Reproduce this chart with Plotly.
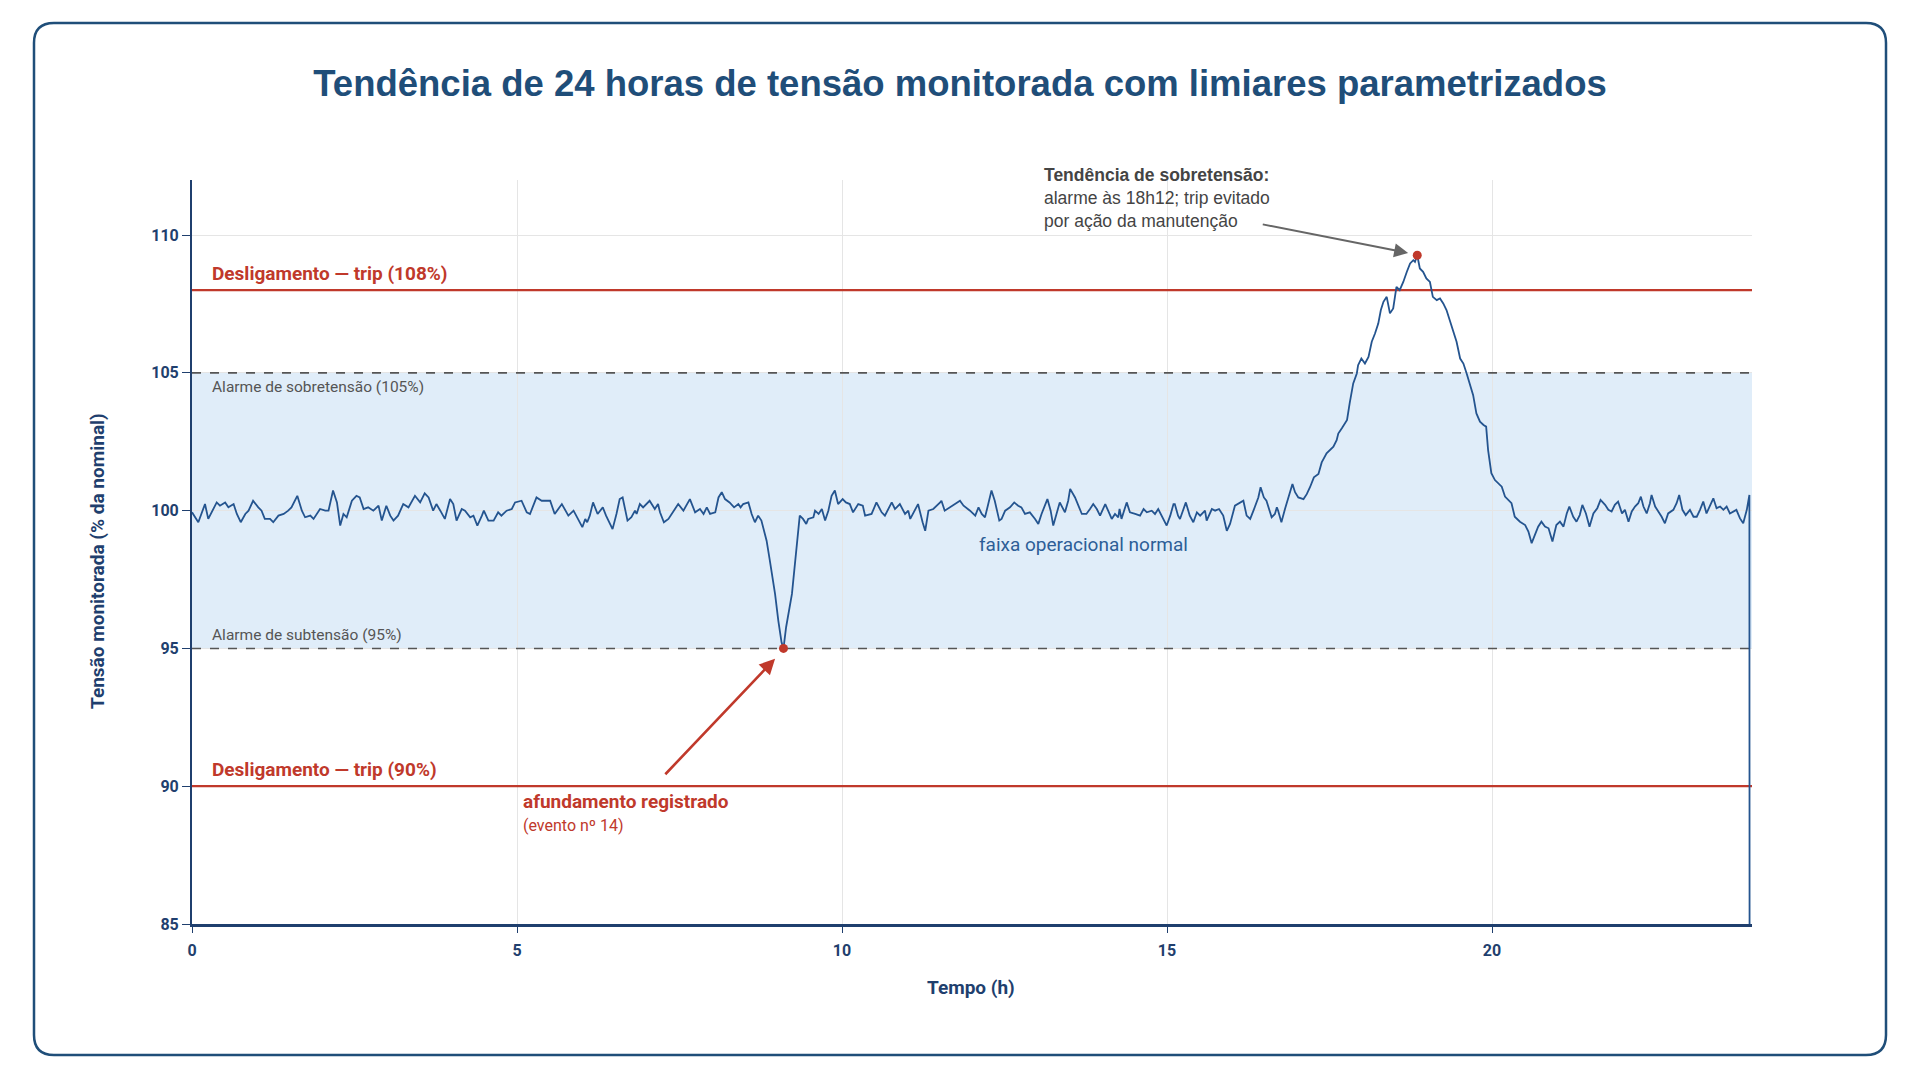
import plotly.graph_objects as go

# ---------------- data ----------------
hours = [
    0.00, 0.097, 0.20, 0.25, 0.38, 0.43, 0.51, 0.56, 0.64, 0.69, 0.75, 0.82, 0.87, 0.94, 1.02, 1.07,
    1.12, 1.20, 1.25, 1.33, 1.41, 1.48, 1.53, 1.62, 1.69, 1.74, 1.82, 1.87, 1.97, 2.05, 2.10, 2.17,
    2.23, 2.28, 2.33, 2.38, 2.46, 2.53, 2.58, 2.64, 2.71, 2.79, 2.87, 2.92, 2.99, 3.05, 3.10, 3.17,
    3.25, 3.33, 3.43, 3.51, 3.58, 3.64, 3.71, 3.76, 3.82, 3.89, 3.97, 4.02, 4.07, 4.15, 4.20, 4.28,
    4.33, 4.39, 4.46, 4.49, 4.56, 4.64, 4.71, 4.76, 4.84, 4.92, 4.97, 5.07, 5.15, 5.20, 5.30, 5.38,
    5.51, 5.58, 5.69, 5.79, 5.87,
    5.97, 6.005, 6.05, 6.08, 6.12, 6.17, 6.24, 6.32, 6.37, 6.47, 6.53, 6.58, 6.625, 6.70, 6.76, 6.815,
    6.84, 6.89, 6.94, 7.04, 7.12, 7.17, 7.20, 7.26, 7.33, 7.41, 7.48, 7.56, 7.66, 7.74, 7.815, 7.87,
    7.92, 7.97, 8.05, 8.10, 8.15, 8.20, 8.27, 8.34, 8.405, 8.44, 8.48, 8.56, 8.61, 8.66, 8.71, 8.76,
    8.84, 8.89, 8.97, 9.02, 9.07, 9.10, 9.14, 9.23, 9.29, 9.35, 9.40, 9.45, 9.48, 9.56, 9.585, 9.64,
    9.69, 9.74, 9.79, 9.84, 9.89, 9.94, 10.01, 10.06, 10.12, 10.17, 10.25, 10.32, 10.355, 10.455, 10.53, 10.61,
    10.66, 10.765, 10.815, 10.89, 10.97, 11.02, 11.05, 11.17, 11.24, 11.28, 11.33, 11.405, 11.51, 11.53, 11.58, 11.66,
    11.815, 11.87, 11.97,
    12.05, 12.10, 12.15, 12.20, 12.25, 12.30, 12.35, 12.42, 12.455, 12.51, 12.585, 12.65, 12.71, 12.76, 12.815, 12.89,
    12.97, 13.02, 13.07, 13.16, 13.21, 13.25, 13.30, 13.35, 13.43, 13.48, 13.51, 13.585, 13.69, 13.76, 13.815, 13.865,
    13.92, 13.97, 14.05, 14.10, 14.15, 14.20, 14.25, 14.27, 14.30, 14.38, 14.43, 14.51, 14.585, 14.64, 14.69, 14.765,
    14.815, 14.865, 14.95, 14.995, 15.05, 15.10, 15.12, 15.17, 15.20, 15.29, 15.35, 15.405, 15.46, 15.51, 15.585, 15.61,
    15.69, 15.74, 15.80, 15.865, 15.92, 15.97, 16.045, 16.12, 16.175, 16.225, 16.28, 16.33, 16.405, 16.44, 16.49, 16.53,
    16.61, 16.66, 16.69, 16.71, 16.76, 16.815, 16.89, 16.93, 16.97, 17.02, 17.10, 17.15, 17.20, 17.26, 17.33, 17.38,
    17.455, 17.51, 17.56, 17.61, 17.635, 17.69, 17.74, 17.77, 17.81, 17.865, 17.92, 17.94, 17.99, 18.045, 18.10, 18.15,
    18.20, 18.25, 18.29, 18.33, 18.38, 18.43, 18.48, 18.53, 18.58, 18.635, 18.69, 18.74, 18.79, 18.815, 18.85, 18.89,
    18.94, 18.99, 19.045, 19.09, 19.15, 19.20, 19.25, 19.30, 19.35, 19.40, 19.455, 19.51, 19.56, 19.61, 19.66, 19.71,
    19.76, 19.815, 19.87, 19.91, 19.94, 19.99, 20.045, 20.10, 20.15, 20.20, 20.25, 20.30, 20.35, 20.43, 20.51, 20.56,
    20.61, 20.66, 20.71, 20.76, 20.815, 20.87, 20.93, 20.99, 21.045, 21.10, 21.15, 21.19, 21.25, 21.30, 21.35, 21.39,
    21.445, 21.50, 21.56, 21.62, 21.67, 21.74, 21.79, 21.84, 21.89, 21.94, 22.00, 22.045, 22.10, 22.15, 22.20, 22.25,
    22.29, 22.33, 22.38, 22.43, 22.455, 22.51, 22.56, 22.61, 22.66, 22.71, 22.79, 22.84, 22.88, 22.93, 22.98, 23.045,
    23.10, 23.15, 23.20, 23.25, 23.30, 23.35, 23.405, 23.455, 23.51, 23.56, 23.61, 23.66, 23.71, 23.76, 23.815, 23.865,
    23.92, 23.96, 23.965,
]
voltage = [
    99.94, 99.58, 100.24, 99.70, 100.30, 100.18, 100.30, 100.12, 100.24, 99.88, 99.58, 99.88, 100.0, 100.36, 100.12, 100.0,
    99.70, 99.70, 99.58, 99.82, 99.88, 100.0, 100.12, 100.54, 100.0, 99.76, 99.82, 99.70, 100.06, 100.0, 100.0, 100.73,
    100.30, 99.46, 99.88, 99.76, 100.36, 100.54, 100.48, 100.06, 100.12, 100.0, 100.18, 99.64, 100.18, 99.82, 99.64, 99.82,
    100.24, 100.12, 100.54, 100.30, 100.63, 100.48, 100.0, 100.24, 100.0, 99.70, 100.42, 100.24, 99.64, 100.06, 100.0, 99.76,
    99.82, 99.46, 99.82, 100.0, 99.64, 99.64, 99.94, 99.82, 100.0, 100.06, 100.30, 100.36, 99.94, 99.88, 100.48, 100.36,
    100.36, 99.88, 100.24, 99.82, 100.0,
    99.58, 99.40, 99.70, 99.58, 99.82, 100.30, 99.88, 100.12, 99.82, 99.33, 99.88, 100.42, 100.48, 99.64, 99.76, 100.0,
    99.88, 100.24, 100.12, 100.36, 100.06, 100.24, 99.94, 99.58, 99.70, 100.0, 100.24, 100.0, 100.42, 99.94, 100.06, 99.88,
    100.12, 99.88, 99.94, 100.48, 100.67, 100.42, 100.30, 100.12, 100.24, 100.12, 100.24, 100.30, 99.88, 99.58, 99.82, 99.64,
    98.91, 98.19, 96.98, 96.01, 95.22, 95.0, 95.77, 96.98, 98.43, 99.82, 99.70, 99.52, 99.70, 99.76, 100.0, 99.88,
    100.06, 99.64, 100.0, 100.54, 100.73, 100.24, 100.42, 100.30, 100.24, 99.94, 100.24, 100.18, 99.82, 99.88, 100.30, 99.94,
    99.82, 100.30, 100.06, 100.24, 99.88, 100.0, 99.70, 100.24, 99.58, 99.27, 100.0, 100.06, 100.30, 100.36, 100.0, 100.12,
    100.36, 100.18, 100.0,
    99.82, 100.12, 99.88, 99.76, 100.24, 100.73, 100.36, 99.64, 99.70, 100.0, 100.12, 100.30, 100.18, 100.12, 99.88, 99.94,
    99.70, 99.52, 99.88, 100.42, 100.0, 99.46, 99.88, 100.30, 99.94, 100.36, 100.79, 100.48, 99.88, 99.88, 100.06, 100.24,
    100.06, 99.82, 100.24, 99.94, 99.70, 99.88, 99.76, 100.06, 99.70, 100.30, 99.94, 99.88, 99.82, 100.06, 99.94, 100.0,
    99.88, 100.06, 99.70, 99.46, 99.82, 100.24, 100.24, 99.82, 99.70, 100.30, 99.82, 99.58, 99.94, 99.82, 100.0, 99.64,
    100.06, 100.0, 100.06, 99.82, 99.27, 99.52, 100.18, 100.30, 100.36, 99.82, 99.70, 100.0, 100.48, 100.85, 100.48, 100.36,
    99.76, 99.88, 100.12, 100.0, 99.58, 100.06, 100.60, 100.97, 100.67, 100.48, 100.42, 100.60, 100.85, 101.21, 101.33, 101.75,
    102.08, 102.20, 102.32, 102.56, 102.80, 102.99, 103.17, 103.29, 103.89, 104.62, 104.98, 105.28, 105.52, 105.34, 105.58, 106.13,
    106.43, 106.79, 107.28, 107.58, 107.76, 107.16, 107.34, 108.12, 108.00, 108.30, 108.67, 108.97, 109.09, 109.03, 109.27, 108.79,
    108.67, 108.43, 108.30, 107.76, 107.64, 107.70, 107.52, 107.28, 106.91, 106.55, 106.13, 105.52, 105.34, 104.98, 104.62, 104.19,
    103.53, 103.23, 103.11, 103.05, 102.20, 101.36, 101.11, 100.99, 100.87, 100.51, 100.39, 100.27, 99.78, 99.60, 99.48, 99.24,
    98.82, 99.12, 99.42, 99.60, 99.42, 99.36, 98.88, 99.48, 99.60, 99.42, 99.90, 100.15, 99.78, 99.60, 99.84, 100.21,
    99.90, 99.42, 99.90, 100.09, 100.39, 100.21, 100.03, 99.97, 100.21, 100.33, 99.90, 100.03, 99.60, 99.97, 100.15, 100.27,
    100.51, 100.15, 99.90, 100.27, 100.57, 100.15, 99.97, 99.78, 99.54, 99.90, 100.03, 100.27, 100.57, 100.03, 99.84, 100.03,
    99.78, 99.78, 100.03, 100.33, 99.90, 100.15, 100.45, 100.09, 100.15, 100.03, 100.15, 99.90, 99.97, 100.03, 99.72, 99.54,
    100.03, 100.57, 70.0,
]

sag_event = {"h": [9.10], "v": [95.0]}
swell_event = {"h": [18.85], "v": [109.27]}

trip_high, trip_low = 108, 90
alarm_high, alarm_low = 105, 95

x_ticks = [0, 5, 10, 15, 20]
y_ticks = [85, 90, 95, 100, 105, 110]

title_text = "Tendência de 24 horas de tensão monitorada com limiares parametrizados"
x_title = "Tempo (h)"
y_title = "Tensão monitorada (% da nominal)"

# ---------------- styling ----------------
NAVY = "#1f3f6e"
TITLE_NAVY = "#1f4e79"
RED = "#c0392b"
LINE_BLUE = "#24548f"
GRAY = "#555555"

W, H = 1920, 1080
ML, MR, MT, MB = 192, 168, 180, 156
PW, PH = W - ML - MR, H - MT - MB


def px(x):
    return (x - ML) / PW


def py(y):
    return (H - MB - y) / PH


fig = go.Figure()

fig.add_trace(go.Scatter(
    x=hours, y=voltage, mode="lines",
    line=dict(color=LINE_BLUE, width=1.8),
    hoverinfo="skip", showlegend=False,
))
fig.add_trace(go.Scatter(
    x=sag_event["h"] + swell_event["h"], y=sag_event["v"] + swell_event["v"], mode="markers",
    marker=dict(color=RED, size=9), showlegend=False, hoverinfo="skip",
))

shapes = []
shapes.append(dict(type="rect", xref="x", yref="y", x0=0, x1=24, y0=alarm_low, y1=alarm_high,
                   fillcolor="#e0edf9", line=dict(width=0), layer="below"))
for yv in (trip_high, trip_low):
    shapes.append(dict(type="line", xref="x", yref="y", x0=0, x1=24, y0=yv, y1=yv,
                       line=dict(color=RED, width=2.2), layer="between"))
for yv in (alarm_high, alarm_low):
    shapes.append(dict(type="line", xref="x", yref="y", x0=0, x1=24, y0=yv, y1=yv,
                       line=dict(color=GRAY, width=1.6, dash="dash"), layer="between"))

# rounded outer frame
x0, x1, y0, y1, r = 34, 1886, 23, 1055, 20
path = (
    f"M {px(x0 + r)},{py(y0)} L {px(x1 - r)},{py(y0)} Q {px(x1)},{py(y0)} {px(x1)},{py(y0 + r)} "
    f"L {px(x1)},{py(y1 - r)} Q {px(x1)},{py(y1)} {px(x1 - r)},{py(y1)} "
    f"L {px(x0 + r)},{py(y1)} Q {px(x0)},{py(y1)} {px(x0)},{py(y1 - r)} "
    f"L {px(x0)},{py(y0 + r)} Q {px(x0)},{py(y0)} {px(x0 + r)},{py(y0)} Z"
)
shapes.append(dict(type="path", xref="paper", yref="paper", path=path,
                   line=dict(color="#1f4e79", width=2.5), layer="above"))

annotations = [
    dict(x=0.28, y=108.62, xref="x", yref="y", text="<b>Desligamento — trip (108%)</b>",
         showarrow=False, xanchor="left", yanchor="middle",
         font=dict(family="Roboto", size=19, color=RED)),
    dict(x=0.28, y=90.62, xref="x", yref="y", text="<b>Desligamento — trip (90%)</b>",
         showarrow=False, xanchor="left", yanchor="middle",
         font=dict(family="Roboto", size=19, color=RED)),
    dict(x=0.28, y=104.5, xref="x", yref="y", text="Alarme de sobretensão (105%)",
         showarrow=False, xanchor="left", yanchor="middle",
         font=dict(family="Roboto", size=15.5, color=GRAY)),
    dict(x=0.28, y=95.47, xref="x", yref="y", text="Alarme de subtensão (95%)",
         showarrow=False, xanchor="left", yanchor="middle",
         font=dict(family="Roboto", size=15.5, color=GRAY)),
    dict(x=13.72, y=98.76, xref="x", yref="y", text="faixa operacional normal",
         showarrow=False, xanchor="center", yanchor="middle",
         font=dict(family="Roboto", size=19, color="#2d5e97")),
    dict(x=5.06, y=89.45, xref="x", yref="y", text="<b>afundamento registrado</b>",
         showarrow=False, xanchor="left", yanchor="middle",
         font=dict(family="Roboto", size=19, color=RED)),
    dict(x=5.06, y=88.57, xref="x", yref="y", text="(evento nº 14)",
         showarrow=False, xanchor="left", yanchor="middle",
         font=dict(family="Roboto", size=16, color=RED)),
    dict(x=13.08, y=py(163), xref="x", yref="paper",
         text="<b>Tendência de sobretensão:</b><br>alarme às 18h12; trip evitado<br>por ação da manutenção",
         showarrow=False, xanchor="left", yanchor="top", align="left",
         font=dict(family="Liberation Sans, Arial", size=17.5, color="#444444")),
    # axis titles
    dict(x=px(97), y=py(561), xref="paper", yref="paper", text=f"<b>{y_title}</b>",
         showarrow=False, textangle=-90, xanchor="center", yanchor="middle",
         font=dict(family="Roboto", size=19, color=NAVY)),
    dict(x=px(971), y=py(987), xref="paper", yref="paper", text=f"<b>{x_title}</b>",
         showarrow=False, xanchor="center", yanchor="middle",
         font=dict(family="Roboto", size=19, color=NAVY)),
    # arrows
    dict(x=8.97, y=94.63, ax=7.26, ay=90.38, xref="x", yref="y", axref="x", ayref="y",
         text="", showarrow=True, arrowhead=2, arrowsize=1.2, arrowwidth=2.6, arrowcolor=RED),
    dict(x=18.71, y=109.35, ax=16.45, ay=110.4, xref="x", yref="y", axref="x", ayref="y",
         text="", showarrow=True, arrowhead=2, arrowsize=1.4, arrowwidth=2, arrowcolor="#666666"),
]

fig.update_layout(
    width=W, height=H,
    margin=dict(l=ML, r=MR, t=MT, b=MB),
    paper_bgcolor="white", plot_bgcolor="white",
    showlegend=False,
    title=dict(text=f"<b>{title_text}</b>", x=0.5, xref="container", xanchor="center",
               y=1 - 83 / H, yref="container", yanchor="middle",
               font=dict(family="Liberation Sans, Arial", size=36.5, color=TITLE_NAVY)),
    shapes=shapes,
    annotations=annotations,
)

tick_font = dict(family="Roboto", size=16, color=NAVY, weight="bold")
fig.update_xaxes(
    range=[0, 24], tickvals=x_ticks, showgrid=True, gridcolor="#e5e5e5", gridwidth=1,
    zeroline=False, showline=True, linecolor=NAVY, linewidth=3,
    ticks="outside", ticklen=6, tickcolor=NAVY, tickwidth=1, tickfont=tick_font,
    ticklabelstandoff=4,
)
fig.update_yaxes(
    range=[85, 112], tickvals=y_ticks, showgrid=True, gridcolor="#e5e5e5", gridwidth=1,
    zeroline=False, showline=True, linecolor=NAVY, linewidth=2,
    ticks="outside", ticklen=8, tickcolor=NAVY, tickwidth=1, tickfont=tick_font,
)

fig.write_html("out.html")
